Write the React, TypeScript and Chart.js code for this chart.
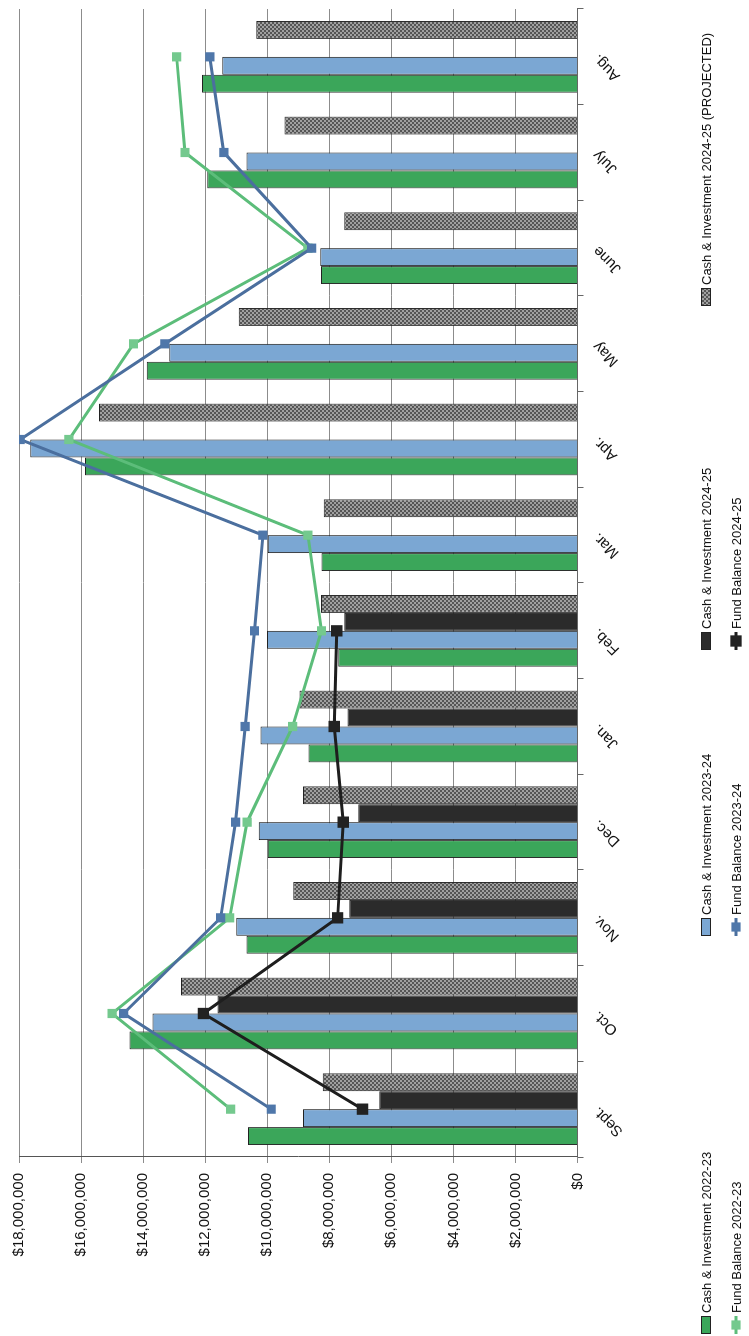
import React, { useEffect, useRef } from 'react';
import { Chart, registerables } from 'chart.js';

Chart.register(...registerables);

const months = ['Sept.', 'Oct.', 'Nov.', 'Dec.', 'Jan.', 'Feb.', 'Mar.', 'Apr.', 'May', 'June', 'July', 'Aug.'];

const cash2223 = [10620000, 14440000, 10670000, 9980000, 8670000, 7710000, 8250000, 15870000, 13880000, 8270000, 11930000, 12100000];
const cash2324 = [8850000, 13700000, 11000000, 10270000, 10220000, 10010000, 9980000, 17640000, 13160000, 8290000, 10670000, 11450000];
const cash2425 = [6390000, 11600000, 7360000, 7070000, 7410000, 7520000, null, null, null, null, null, null];
const cash2425Proj = [8210000, 12780000, 9160000, 8850000, 8960000, 8270000, 8180000, 15420000, 10920000, 7520000, 9440000, 10350000];

const fund2223 = [11180000, 15000000, 11210000, 10650000, 9180000, 8250000, 8690000, 16390000, 14310000, 8690000, 12650000, 12920000];
const fund2324 = [9870000, 14630000, 11500000, 11020000, 10710000, 10410000, 10140000, 17960000, 13300000, 8570000, 11400000, 11850000];
const fund2425 = [6930000, 12060000, 7730000, 7550000, 7840000, 7760000, null, null, null, null, null, null];

const valueMin = 0;
const valueMax = 18000000;
const valueStep = 2000000;

const seriesLabels = [
  'Cash & Investment 2022-23',
  'Cash & Investment 2023-24',
  'Cash & Investment 2024-25',
  'Cash & Investment 2024-25 (PROJECTED)',
  'Fund Balance 2022-23',
  'Fund Balance 2023-24',
  'Fund Balance 2024-25',
];

const W = 1336;
const H = 749;
const FONT = '"Liberation Sans", Arial, sans-serif';

function makePattern(ctx: CanvasRenderingContext2D): CanvasPattern | string {
  const pc = document.createElement('canvas');
  pc.width = 4;
  pc.height = 4;
  const p = pc.getContext('2d');
  if (!p) return '#808080';
  p.fillStyle = '#a0a0a0';
  p.fillRect(0, 0, 4, 4);
  p.fillStyle = '#555555';
  p.fillRect(0, 0, 2, 2);
  p.fillRect(2, 2, 2, 2);
  return ctx.createPattern(pc, 'repeat') || '#808080';
}

const legendPlugin = {
  id: 'sideLegend',
  afterDraw(chart: any) {
    const ctx: CanvasRenderingContext2D = chart.ctx;
    const slots = [
      { ds: 0, u: 2, v: 706 },
      { ds: 1, u: 400, v: 706 },
      { ds: 2, u: 686, v: 706 },
      { ds: 3, u: 1030, v: 706 },
      { ds: 4, u: 2, v: 736 },
      { ds: 5, u: 400, v: 736 },
      { ds: 6, u: 686, v: 736 },
    ];
    ctx.save();
    ctx.font = '13px ' + FONT;
    ctx.textBaseline = 'middle';
    ctx.textAlign = 'left';
    slots.forEach((s) => {
      const ds = chart.data.datasets[s.ds];
      if (ds.type === 'line') {
        ctx.strokeStyle = ds.borderColor;
        ctx.lineWidth = 3;
        ctx.beginPath();
        ctx.moveTo(s.u, s.v);
        ctx.lineTo(s.u + 18, s.v);
        ctx.stroke();
        const side = ds.pointRadius * Math.SQRT2;
        ctx.fillStyle = ds.pointBackgroundColor;
        ctx.fillRect(s.u + 9 - side / 2, s.v - side / 2, side, side);
      } else {
        ctx.fillStyle = ds.backgroundColor;
        ctx.fillRect(s.u, s.v - 5, 18, 10);
        ctx.strokeStyle = '#222';
        ctx.lineWidth = 1;
        ctx.strokeRect(s.u + 0.5, s.v - 4.5, 17, 9);
      }
      ctx.fillStyle = '#111';
      ctx.fillText(ds.label, s.u + 21, s.v + 1);
    });
    ctx.restore();
  },
};

export default function App() {
  const ref = useRef<HTMLCanvasElement | null>(null);

  useEffect(() => {
    const canvas = ref.current;
    if (!canvas) return;
    const ctx = canvas.getContext('2d');
    if (!ctx) return;
    const gray = makePattern(ctx);

    const barCommon = {
      type: 'bar' as const,
      borderWidth: 1,
      borderColor: '#222222',
      categoryPercentage: 0.75,
      barPercentage: 1.0,
      order: 10,
    };
    const lineCommon = {
      type: 'line' as const,
      borderWidth: 3,
      pointStyle: 'rect',
      pointBorderWidth: 0,
      spanGaps: false,
      tension: 0,
      fill: false,
    };

    const chart = new Chart(ctx, {
      type: 'bar',
      data: {
        labels: months,
        datasets: [
          { ...barCommon, label: seriesLabels[0], data: cash2223, backgroundColor: '#3ba65a' },
          { ...barCommon, label: seriesLabels[1], data: cash2324, backgroundColor: '#7ba7d3' },
          { ...barCommon, label: seriesLabels[2], data: cash2425, backgroundColor: '#2b2b2b' },
          { ...barCommon, label: seriesLabels[3], data: cash2425Proj, backgroundColor: gray },
          { ...lineCommon, label: seriesLabels[4], data: fund2223, borderColor: '#5cbd7a', pointBackgroundColor: '#74c98e', pointRadius: 6.5, order: 3 },
          { ...lineCommon, label: seriesLabels[5], data: fund2324, borderColor: '#4b6f9e', pointBackgroundColor: '#4f77aa', pointRadius: 6.5, order: 2 },
          { ...lineCommon, label: seriesLabels[6], data: fund2425, borderColor: '#1e1e1e', pointBackgroundColor: '#222222', pointRadius: 8, order: 1 },
        ] as any,
      },
      options: {
        responsive: false,
        animation: false,
        devicePixelRatio: 1,
        events: [],
        layout: { padding: { top: 17, right: 9, bottom: 0, left: 0 } },
        plugins: {
          legend: { display: false },
          tooltip: { enabled: false },
          title: { display: false },
        },
        scales: {
          x: {
            type: 'category',
            offset: true,
            grid: {
              offset: true,
              drawOnChartArea: false,
              drawTicks: true,
              tickLength: 6,
              color: '#666666',
            },
            border: { display: true, color: '#666666', width: 1 },
            ticks: {
              minRotation: 45,
              maxRotation: 45,
              padding: 6,
              color: '#111111',
              font: { size: 15, family: FONT },
            },
            afterFit: (s: any) => {
              s.height = H - 577.5;
            },
          },
          y: {
            type: 'linear',
            min: valueMin,
            max: valueMax,
            grid: { color: '#8c8c8c', lineWidth: 1, tickLength: 6 },
            border: { display: true, color: '#555555', width: 1 },
            ticks: {
              stepSize: valueStep,
              padding: 10,
              color: '#111111',
              font: { size: 15, family: FONT },
              callback: (v: any) => '$' + Number(v).toLocaleString('en-US'),
            },
            afterFit: (s: any) => {
              s.width = 179;
            },
          },
        },
      } as any,
      plugins: [legendPlugin],
    });

    return () => {
      chart.destroy();
    };
  }, []);

  return (
    <div style={{ position: 'fixed', left: 0, top: 0, width: H, height: W, overflow: 'hidden', background: '#ffffff' }}>
      <canvas
        ref={ref}
        width={W}
        height={H}
        style={{
          position: 'absolute',
          left: 0,
          top: 0,
          width: W,
          height: H,
          transformOrigin: '0 0',
          transform: `translate(0px, ${W}px) rotate(-90deg)`,
        }}
      />
    </div>
  );
}
